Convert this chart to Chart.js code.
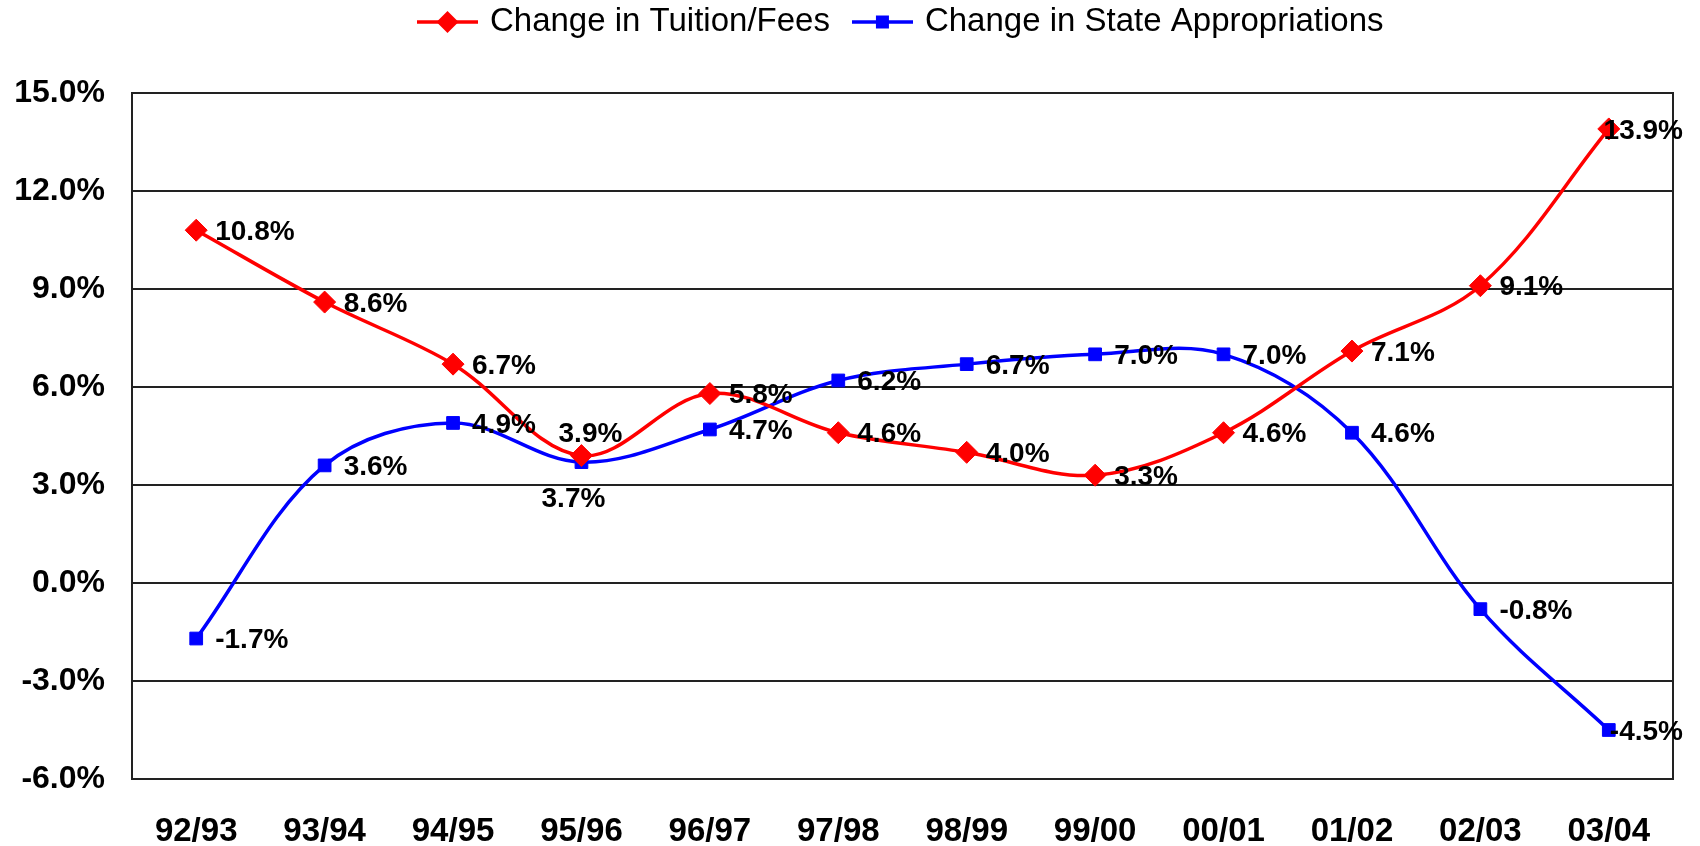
<!DOCTYPE html>
<html>
<head>
<meta charset="utf-8">
<script src="https://cdn.jsdelivr.net/npm/chart.js@4.4.0/dist/chart.umd.min.js"></script>
<style>
html,body{margin:0;padding:0;background:#fff;}
#wrap{width:1700px;height:846px;}
</style>
</head>
<body>
<div id="wrap"><canvas id="chart" width="1700" height="846"></canvas></div>
<script>
// values
const years = ['92/93','93/94','94/95','95/96','96/97','97/98','98/99','99/00','00/01','01/02','02/03','03/04'];
const tuitionChange = [10.8, 8.6, 6.7, 3.9, 5.8, 4.6, 4.0, 3.3, 4.6, 7.1, 9.1, 13.9];
const stateChange = [-1.7, 3.6, 4.9, 3.7, 4.7, 6.2, 6.7, 7.0, 7.0, 4.6, -0.8, -4.5];
const tuitionLabelPos = ['right','right','right','above','right','right','right','right','right','right','right','right'];
const stateLabelPos = ['right','right','right','below','right','right','right','right','right','right','right','right'];
const yMin = -6, yMax = 15, yStep = 3;

const FONT = '"Liberation Sans", Arial, sans-serif';
const RED = '#ff0000', BLUE = '#0000ff';
const labelPos = [tuitionLabelPos, stateLabelPos];

// legend icon: line with marker in the middle
function legendIcon(color, style) {
  const c = document.createElement('canvas');
  c.width = 61; c.height = 26;
  const g = c.getContext('2d');
  g.strokeStyle = color; g.lineWidth = 3.5;
  g.beginPath(); g.moveTo(0, 13); g.lineTo(61, 13); g.stroke();
  g.fillStyle = color;
  g.beginPath();
  if (style === 'rectRot') {
    g.moveTo(30.5, 2); g.lineTo(41.5, 13); g.lineTo(30.5, 24); g.lineTo(19.5, 13);
  } else {
    g.rect(24, 6.5, 13, 13);
  }
  g.closePath(); g.fill();
  return c;
}
const legendIcons = [legendIcon(RED, 'rectRot'), legendIcon(BLUE, 'rect')];

// value labels next to the points
const pointLabels = {
  id: 'pointLabels',
  afterDatasetsDraw(chart) {
    const ctx = chart.ctx;
    ctx.save();
    ctx.font = 'bold 28px ' + FONT;
    ctx.fillStyle = '#000';
    ctx.textBaseline = 'middle';
    ctx.textAlign = 'left';
    chart.data.datasets.forEach((ds, i) => {
      chart.getDatasetMeta(i).data.forEach((pt, j) => {
        const txt = ds.data[j].toFixed(1) + '%';
        const w = ctx.measureText(txt).width;
        const pos = labelPos[i][j];
        let x, y;
        if (pos === 'above') { x = pt.x + 9 - w / 2; y = pt.y - 21; }
        else if (pos === 'below') { x = pt.x - 8 - w / 2; y = pt.y + 37; }
        else { x = Math.min(pt.x + 19, chart.width - 17 - w); y = pt.y + 2; }
        ctx.fillText(txt, x, y);
      });
    });
    ctx.restore();
  }
};

// plot frame + legend height
const frame = {
  id: 'frame',
  beforeInit(chart) {
    const fit = chart.legend.fit;
    chart.legend.fit = function() { fit.call(this); this.height = 114; };
  },
  beforeDatasetsDraw(chart) {
    const a = chart.chartArea, ctx = chart.ctx;
    ctx.save();
    ctx.strokeStyle = '#222';
    ctx.lineWidth = 2;
    ctx.strokeRect(a.left, a.top, a.right - a.left, a.bottom - a.top);
    ctx.restore();
  }
};

new Chart(document.getElementById('chart'), {
  type: 'line',
  data: {
    labels: years,
    datasets: [{
      label: 'Change in Tuition/Fees',
      data: tuitionChange,
      borderColor: RED,
      backgroundColor: RED,
      borderWidth: 3.5,
      tension: 0.35,
      pointStyle: 'rectRot',
      pointRadius: 11,
      pointBorderWidth: 1,
      pointBackgroundColor: RED,
      pointBorderColor: RED
    }, {
      label: 'Change in State Appropriations',
      data: stateChange,
      borderColor: BLUE,
      backgroundColor: BLUE,
      borderWidth: 3.5,
      tension: 0.35,
      pointStyle: 'rect',
      pointRadius: 9,
      pointBorderWidth: 1,
      pointBackgroundColor: BLUE,
      pointBorderColor: BLUE
    }]
  },
  options: {
    responsive: false,
    animation: false,
    layout: { padding: { top: -21, right: 27, bottom: 0, left: 0 } },
    plugins: {
      tooltip: { enabled: false },
      legend: {
        position: 'top',
        fullSize: false,
        labels: {
          usePointStyle: true,
          pointStyleWidth: 52,
          padding: 26.5,
          color: '#000',
          font: { family: FONT, size: 33 },
          generateLabels(chart) {
            return chart.data.datasets.map((ds, i) => ({
              text: ds.label, pointStyle: legendIcons[i], fillStyle: ds.borderColor,
              strokeStyle: ds.borderColor, lineWidth: 0, hidden: false, datasetIndex: i, fontColor: '#000'
            }));
          }
        }
      }
    },
    scales: {
      x: {
        offset: true,
        grid: { display: false, drawTicks: false },
        border: { display: false },
        ticks: { color: '#000', font: { family: FONT, size: 33, weight: 'bold' }, padding: 33, maxRotation: 0, autoSkip: false },
        afterFit(s) { s.height = 67; }
      },
      y: {
        min: yMin, max: yMax,
        grid: { color: '#222', lineWidth: 2, drawTicks: false },
        border: { display: false },
        ticks: { stepSize: yStep, color: '#000', font: { family: FONT, size: 32, weight: 'bold' }, padding: 27,
          callback: v => v.toFixed(1) + '%' },
        afterFit(s) { s.width = 132; }
      }
    }
  },
  plugins: [frame, pointLabels]
});
</script>
</body>
</html>
